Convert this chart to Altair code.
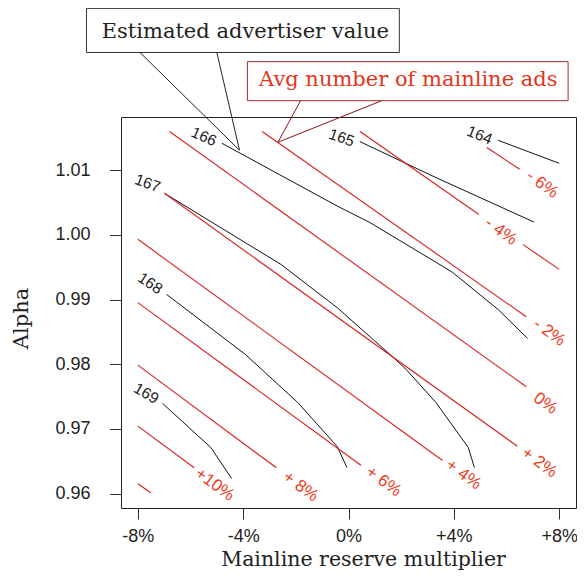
import altair as alt
import pandas as pd

# ---- Estimated advertiser value contours (x: reserve multiplier in %, y: alpha)
adv_levels = [164, 165, 166, 167, 168, 169]
adv_x = [
    [5.68, 8.00],
    [0.43, 3.32, 7.04],
    [-4.81, -0.43, 0.82, 3.58, 3.95, 5.68, 6.80],
    [-6.99, -2.57, -0.43, 1.70, 2.19, 3.32, 4.55, 4.78],
    [-6.91, -3.92, -1.93, -0.43, -0.06],
    [-7.06, -5.23, -4.44],
]
adv_y = [
    [1.01464, 1.01108],
    [1.01444, 1.00887, 1.00200],
    [1.01418, 1.00447, 1.00190, 0.99514, 0.99421, 0.98848, 0.98399],
    [1.00644, 0.99545, 0.98875, 0.98105, 0.97919, 0.97409, 0.96712, 0.96402],
    [0.99080, 0.98152, 0.97409, 0.96728, 0.96402],
    [0.97393, 0.96712, 0.96232],
]
adv_label_x = [4.98, -0.26, -5.49, -7.63, -7.53, -7.68]
adv_label_y = [1.01542, 1.01503, 1.01519, 1.00799, 0.99251, 0.97548]
adv_label_angle = [22, 19, 24, 20, 34, 30]

# ---- Avg number of mainline ads contours (straight segments)
ads_seg_level = ["-6", "-4a", "-4b", "-2", "0", "+2", "+4", "+6", "+8", "+10", "+12"]
ads_x0 = [5.25, 0.44, 6.62, -3.28, -6.80, -6.99, -8.00, -8.00, -8.00, -8.00, -8.00]
ads_y0 = [1.01351, 1.01599, 0.99854, 1.01599, 1.01599, 1.00644, 0.99932, 0.98952, 0.97986, 0.97042, 0.96150]
ads_x1 = [6.50, 4.94, 8.00, 6.75, 6.75, 6.41, 3.57, 0.47, -2.74, -5.86, -7.51]
ads_y1 = [1.01015, 1.00319, 0.99467, 0.98735, 0.97652, 0.96732, 0.96511, 0.96438, 0.96398, 0.96398, 0.96011]
ads_labels = ["- 6%", "- 4%", "- 2%", "0%", "+ 2%", "+ 4%", "+ 6%", "+ 8%", "+10%"]
ads_label_x = [7.36, 5.79, 7.63, 7.48, 7.25, 4.37, 1.33, -1.82, -5.08]
ads_label_y = [1.00783, 1.00056, 0.98492, 0.97393, 0.96480, 0.96294, 0.96186, 0.96108, 0.96139]

# ---- Callout annotations (data units, outside the plotting region)
box_text = ["Estimated advertiser value", "Avg number of mainline ads"]
box_x0 = [-9.95, -3.84]
box_x1 = [1.93, 8.34]
box_y0 = [1.02822, 1.02076]
box_y1 = [1.03504, 1.02680]
box_text_x = [-3.92, 2.27]
box_text_y = [1.03039, 1.02300]
call_x0 = [-7.92, -5.00, -1.82, 1.26]
call_y0 = [1.02822, 1.02822, 1.02076, 1.02076]
call_x1 = [-4.14, -4.14, -2.68, -2.68]
call_y1 = [1.01310, 1.01310, 1.01433, 1.01433]
call_group = ["adv", "adv", "ads", "ads"]

x_ticks = [-8, -4, 0, 4, 8]
y_ticks = [0.96, 0.97, 0.98, 0.99, 1.00, 1.01]

RED_LINE = "#d81f1f"
RED_LABEL = "#ee3b1d"
RED_TEXT = "#e2361c"
RED_BOX = "#a52a2a"
RED_CALL = "#8e1414"

# ---- tables
adv_rows = []
for lvl, xv_list, yv_list in zip(adv_levels, adv_x, adv_y):
    for i, (xv, yv) in enumerate(zip(xv_list, yv_list)):
        adv_rows.append({"level": str(lvl), "x": xv, "y": yv, "i": i})
df_adv = pd.DataFrame(adv_rows)

df_adv_lab = pd.DataFrame({
    "x": adv_label_x, "y": adv_label_y, "ang": adv_label_angle,
    "txt": [str(v) for v in adv_levels],
})

ads_rows = []
for s, a, b, c, d in zip(ads_seg_level, ads_x0, ads_y0, ads_x1, ads_y1):
    ads_rows.append({"seg": s, "x": a, "y": b, "i": 0})
    ads_rows.append({"seg": s, "x": c, "y": d, "i": 1})
df_ads = pd.DataFrame(ads_rows)

df_ads_lab = pd.DataFrame({"x": ads_label_x, "y": ads_label_y, "txt": ads_labels})

df_box = pd.DataFrame({
    "x": box_x0, "x2": box_x1, "y": box_y0, "y2": box_y1,
    "stroke": ["#333333", RED_BOX],
})
df_box_txt = pd.DataFrame({
    "x": box_text_x, "y": box_text_y, "txt": box_text, "col": ["#222222", RED_TEXT],
})
df_call = pd.DataFrame({
    "x": call_x0, "y": call_y0, "x2": call_x1, "y2": call_y1,
    "col": ["#222222" if g == "adv" else RED_CALL for g in call_group],
})

xs = alt.Scale(domain=[-8.64, 8.64], nice=False, zero=False)
ys = alt.Scale(domain=[0.95776, 1.01824], nice=False, zero=False)

x_axis = alt.Axis(
    values=x_ticks,
    labelExpr="datum.value > 0 ? '+' + datum.value + '%' : datum.value + '%'",
    title="Mainline reserve multiplier",
    grid=False, domain=False, tickSize=11, tickColor="#333333",
    labelPadding=8, labelFont="Liberation Sans", labelFontSize=18,
    labelColor="#222222",
    titleFont="DejaVu Serif", titleFontSize=20.5, titleFontWeight="normal",
    titleColor="#222222", titleX=242, titleY=57,
    titleAlign="center", titleBaseline="alphabetic",
)
y_axis = alt.Axis(
    values=y_ticks, format=".2f", title="Alpha",
    grid=False, domain=False, tickSize=11.5, tickColor="#333333",
    labelPadding=19.5, labelFont="Liberation Sans", labelFontSize=18,
    labelColor="#222222",
    titleFont="DejaVu Serif", titleFontSize=21, titleFontWeight="normal",
    titleColor="#222222", titleAngle=270, titleX=-94, titleY=201,
    titleAlign="center", titleBaseline="alphabetic",
)
X = alt.X("x:Q", scale=xs, axis=x_axis)
Y = alt.Y("y:Q", scale=ys, axis=y_axis)

adv_lines = alt.Chart(df_adv).mark_line(color="#111111", strokeWidth=1).encode(
    x=X, y=Y, detail="level:N", order="i:Q")

ads_lines = alt.Chart(df_ads).mark_line(color=RED_LINE, strokeWidth=1.1).encode(
    x=X, y=Y, detail="seg:N", order="i:Q")

adv_lab = alt.Chart(df_adv_lab).mark_text(
    font="Liberation Sans", fontSize=15.5, color="#222222",
    align="center", baseline="middle").encode(
    x=X, y=Y, text="txt:N", angle=alt.Angle("ang:Q", scale=None))

ads_lab = alt.Chart(df_ads_lab).mark_text(
    font="Liberation Sans", fontSize=17, color=RED_LABEL,
    align="center", baseline="middle", angle=36).encode(
    x=X, y=Y, text="txt:N")

callouts = alt.Chart(df_call).mark_rule(strokeWidth=1).encode(
    x=X, y=Y, x2="x2:Q", y2="y2:Q", color=alt.Color("col:N", scale=None))

boxes = alt.Chart(df_box).mark_rect(fill="white", strokeWidth=1).encode(
    x=X, y=Y, x2="x2:Q", y2="y2:Q", stroke=alt.Stroke("stroke:N", scale=None))

box_txt = alt.Chart(df_box_txt).mark_text(
    font="DejaVu Serif", fontSize=21, align="center", baseline="alphabetic").encode(
    x=X, y=Y, text="txt:N", color=alt.Color("col:N", scale=None))

chart = alt.layer(
    adv_lines, ads_lines, adv_lab, ads_lab, callouts, boxes, box_txt
).properties(
    width=455, height=391,
    padding={"left": 113, "top": 109, "right": 1, "bottom": 63},
    autosize="none",
    background="white",
).configure_view(
    stroke="#222222", strokeWidth=1
)

chart.save("out.html", embed_options={"renderer": "svg", "actions": False})
